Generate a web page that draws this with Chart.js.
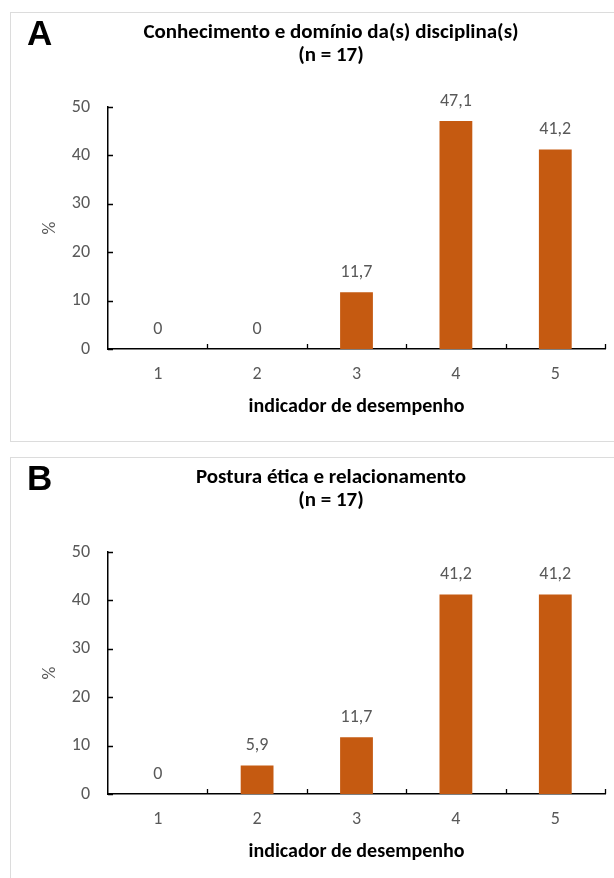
<!DOCTYPE html>
<html>
<head>
<meta charset="utf-8">
<script src="https://cdn.jsdelivr.net/npm/chart.js@4"></script>
<style>
  body { margin: 0; background: #fff; overflow: hidden; width: 614px; height: 878px; position: relative; }
  .panel { position: absolute; left: 10px; width: 640px; height: 428px; border: 1px solid #dcdcdc; background: #fff; }
  .panel canvas { position: absolute; left: 0; top: 0; }
</style>
</head>
<body>
<div class="panel" style="top:12px"><canvas id="chartA" width="640" height="428"></canvas></div>
<div class="panel" style="top:457px"><canvas id="chartB" width="640" height="428"></canvas></div>
<script>
const categories = ["1", "2", "3", "4", "5"];
const valuesA = [0, 0, 11.7, 47.1, 41.2];
const valuesB = [0, 5.9, 11.7, 41.2, 41.2];
const yTicks = [0, 10, 20, 30, 40, 50];
const titleA = ["Conhecimento e domínio da(s) disciplina(s)", "(n = 17)"];
const titleB = ["Postura ética e relacionamento", "(n = 17)"];

const barColor = "#C55A11";
const grey = "#595959";
const fontFamily = "Carlito, Calibri, Lato, sans-serif";

// draws the data labels, inner tick marks and the panel letter
const extras = {
  id: "extras",
  afterDatasetsDraw(chart, args, opts) {
    const c = chart.ctx;
    const x = chart.scales.x;
    const y = chart.scales.y;
    const area = chart.chartArea;

    // value labels
    c.save();
    c.fillStyle = grey;
    c.font = "18px " + fontFamily;
    c.textAlign = "center";
    c.textBaseline = "middle";
    chart.getDatasetMeta(0).data.forEach((bar, i) => {
      const v = chart.data.datasets[0].data[i];
      c.fillText(v.toLocaleString("pt-BR"), bar.x, bar.y - 20);
    });
    c.restore();

    // tick marks pointing into the plot
    c.save();
    c.strokeStyle = "#000";
    c.lineWidth = 1.3;
    c.beginPath();
    yTicks.forEach((t) => {
      const py = Math.round(y.getPixelForValue(t)) + 0.5;
      c.moveTo(area.left, py);
      c.lineTo(area.left + 5, py);
    });
    const half = (x.getPixelForValue(1) - x.getPixelForValue(0)) / 2;
    for (let i = 0; i < categories.length; i++) {
      const px = Math.round(x.getPixelForValue(i) + half) + 0.5;
      c.moveTo(px, area.bottom);
      c.lineTo(px, area.bottom - 5);
    }
    c.stroke();
    c.restore();

    // panel letter
    c.save();
    c.fillStyle = "#000";
    c.font = "bold 35px 'Liberation Sans', Arial, sans-serif";
    c.textAlign = "left";
    c.textBaseline = "alphabetic";
    c.fillText(opts.letter, 16, 32);
    c.restore();
  },
};

function makeChart(id, letter, title, values) {
  return new Chart(document.getElementById(id), {
    type: "bar",
    data: {
      labels: categories,
      datasets: [
        {
          data: values,
          backgroundColor: barColor,
          categoryPercentage: 1,
          barPercentage: 0.33,
        },
      ],
    },
    options: {
      responsive: false,
      animation: false,
      layout: { padding: 0 },
      plugins: {
        legend: { display: false },
        tooltip: { enabled: false },
        title: {
          display: true,
          text: title,
          color: "#000",
          font: { family: fontFamily, size: 21, weight: "bold", lineHeight: 1.1 },
          padding: { top: 8.5, bottom: 39.3 },
        },
        extras: { letter: letter },
      },
      scales: {
        x: {
          grid: { display: false },
          border: { display: true, color: "#000", width: 1.5 },
          ticks: { color: grey, font: { family: fontFamily, size: 18 }, padding: 7 },
          title: {
            display: true,
            text: "indicador de desempenho",
            color: "#000",
            font: { family: fontFamily, size: 20, weight: "bold", lineHeight: 1.2 },
            padding: { top: 0, bottom: 22 },
          },
          afterFit: (scale) => { scale.height = 92; },
        },
        y: {
          min: 0,
          max: 50,
          grid: { display: false },
          border: { display: true, color: "#000", width: 1.5 },
          afterBuildTicks: (scale) => { scale.ticks = yTicks.map((v) => ({ value: v })); },
          ticks: { color: grey, font: { family: fontFamily, size: 18 }, padding: 10 },
          title: {
            display: true,
            text: "%",
            color: grey,
            font: { family: fontFamily, size: 18, lineHeight: 1.2 },
            padding: { top: 28.7, bottom: 0 },
          },
          afterFit: (scale) => { scale.width = 97; },
        },
        // empty right-hand box, keeps the plot narrower than the centred title
        spacer: {
          position: "right",
          grid: { display: false },
          border: { display: false },
          ticks: { display: false },
          afterFit: (scale) => { scale.width = 46; },
        },
      },
    },
    plugins: [extras],
  });
}

makeChart("chartA", "A", titleA, valuesA);
makeChart("chartB", "B", titleB, valuesB);
</script>
</body>
</html>
